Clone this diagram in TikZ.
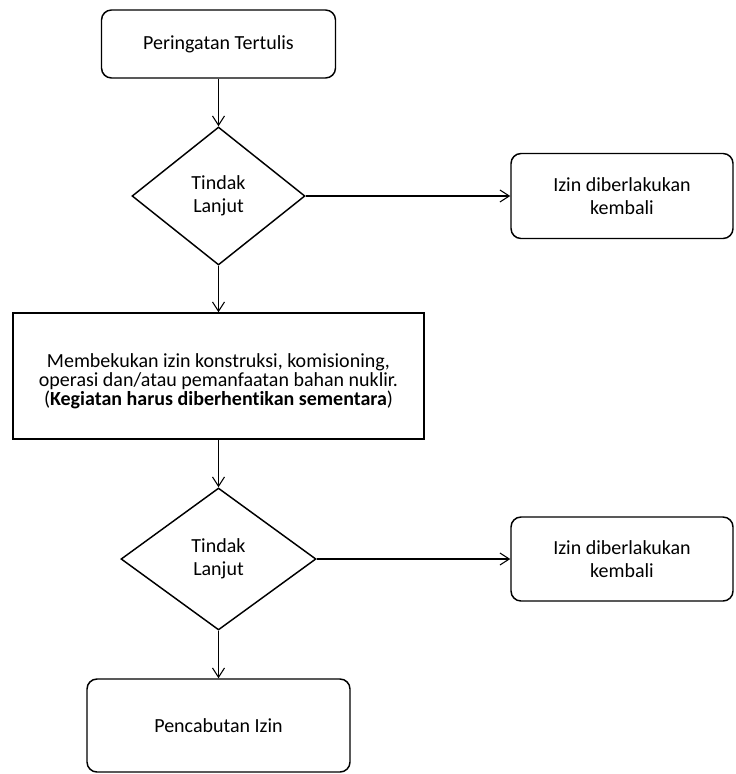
\documentclass[tikz,border=0pt]{standalone}
\usepackage{fontspec}
\setmainfont{Carlito}[Ligatures=NoCommon]
\usetikzlibrary{shapes.geometric,arrows.meta}

\begin{document}
\begin{tikzpicture}[x=0.75pt,y=-0.75pt,>={Straight Barb[length=7pt,width=9pt]},
			every node/.style={font=\fontsize{15}{17.25}\selectfont,align=center},
			round node/.style={rectangle,rounded corners=7.5pt,draw,line width=1.1pt,inner sep=2pt},
			box node/.style={rectangle,draw,line width=1.1pt,inner sep=2pt,font=\fontsize{15}{14.25}\selectfont},
			test node/.style={diamond,draw,line width=1.1pt,inner sep=0pt},
			link/.style={->,line width=0.8pt}
			]
			
			\def \c {218.5};
			
			\useasboundingbox (0,0) rectangle (735,774);
			
			% main column
			\node[round node,minimum width=175.5pt,minimum height=51pt] at (\c,44) (warn) {Peringatan Tertulis};
			\node[test node,minimum width=129.75pt,minimum height=103.5pt] at (\c,196) (test1) {Tindak\\Lanjut};
			\node[box node,minimum width=308.25pt,minimum height=94.5pt] at (\c,376) (freeze) {\rule{0pt}{18pt}Membekukan izin konstruksi, komisioning,\\operasi dan/atau pemanfaatan bahan nuklir.\\(\textbf{Kegiatan harus diberhentikan sementara})};
			\node[test node,minimum width=146.25pt,minimum height=106.5pt] at (\c,559) (test2) {Tindak\\Lanjut};
			\node[round node,minimum width=197.25pt,minimum height=69.75pt] at (\c,725.5) (revoke) {Pencabutan Izin};
			
			% right column
			\node[round node,minimum width=166.5pt,minimum height=63.75pt] at (622,196) (back1) {Izin diberlakukan\\kembali};
			\node[round node,minimum width=166.5pt,minimum height=63pt] at (622,559) (back2) {Izin diberlakukan\\kembali};
			
			\draw[link] (warn) -- (test1);
			\draw[link] (test1) -- (back1);
			\draw[link] (test1) -- (freeze);
			\draw[link] (freeze) -- (test2);
			\draw[link] (test2) -- (back2);
			\draw[link] (test2) -- (revoke);
			\end{tikzpicture}
\end{document}
